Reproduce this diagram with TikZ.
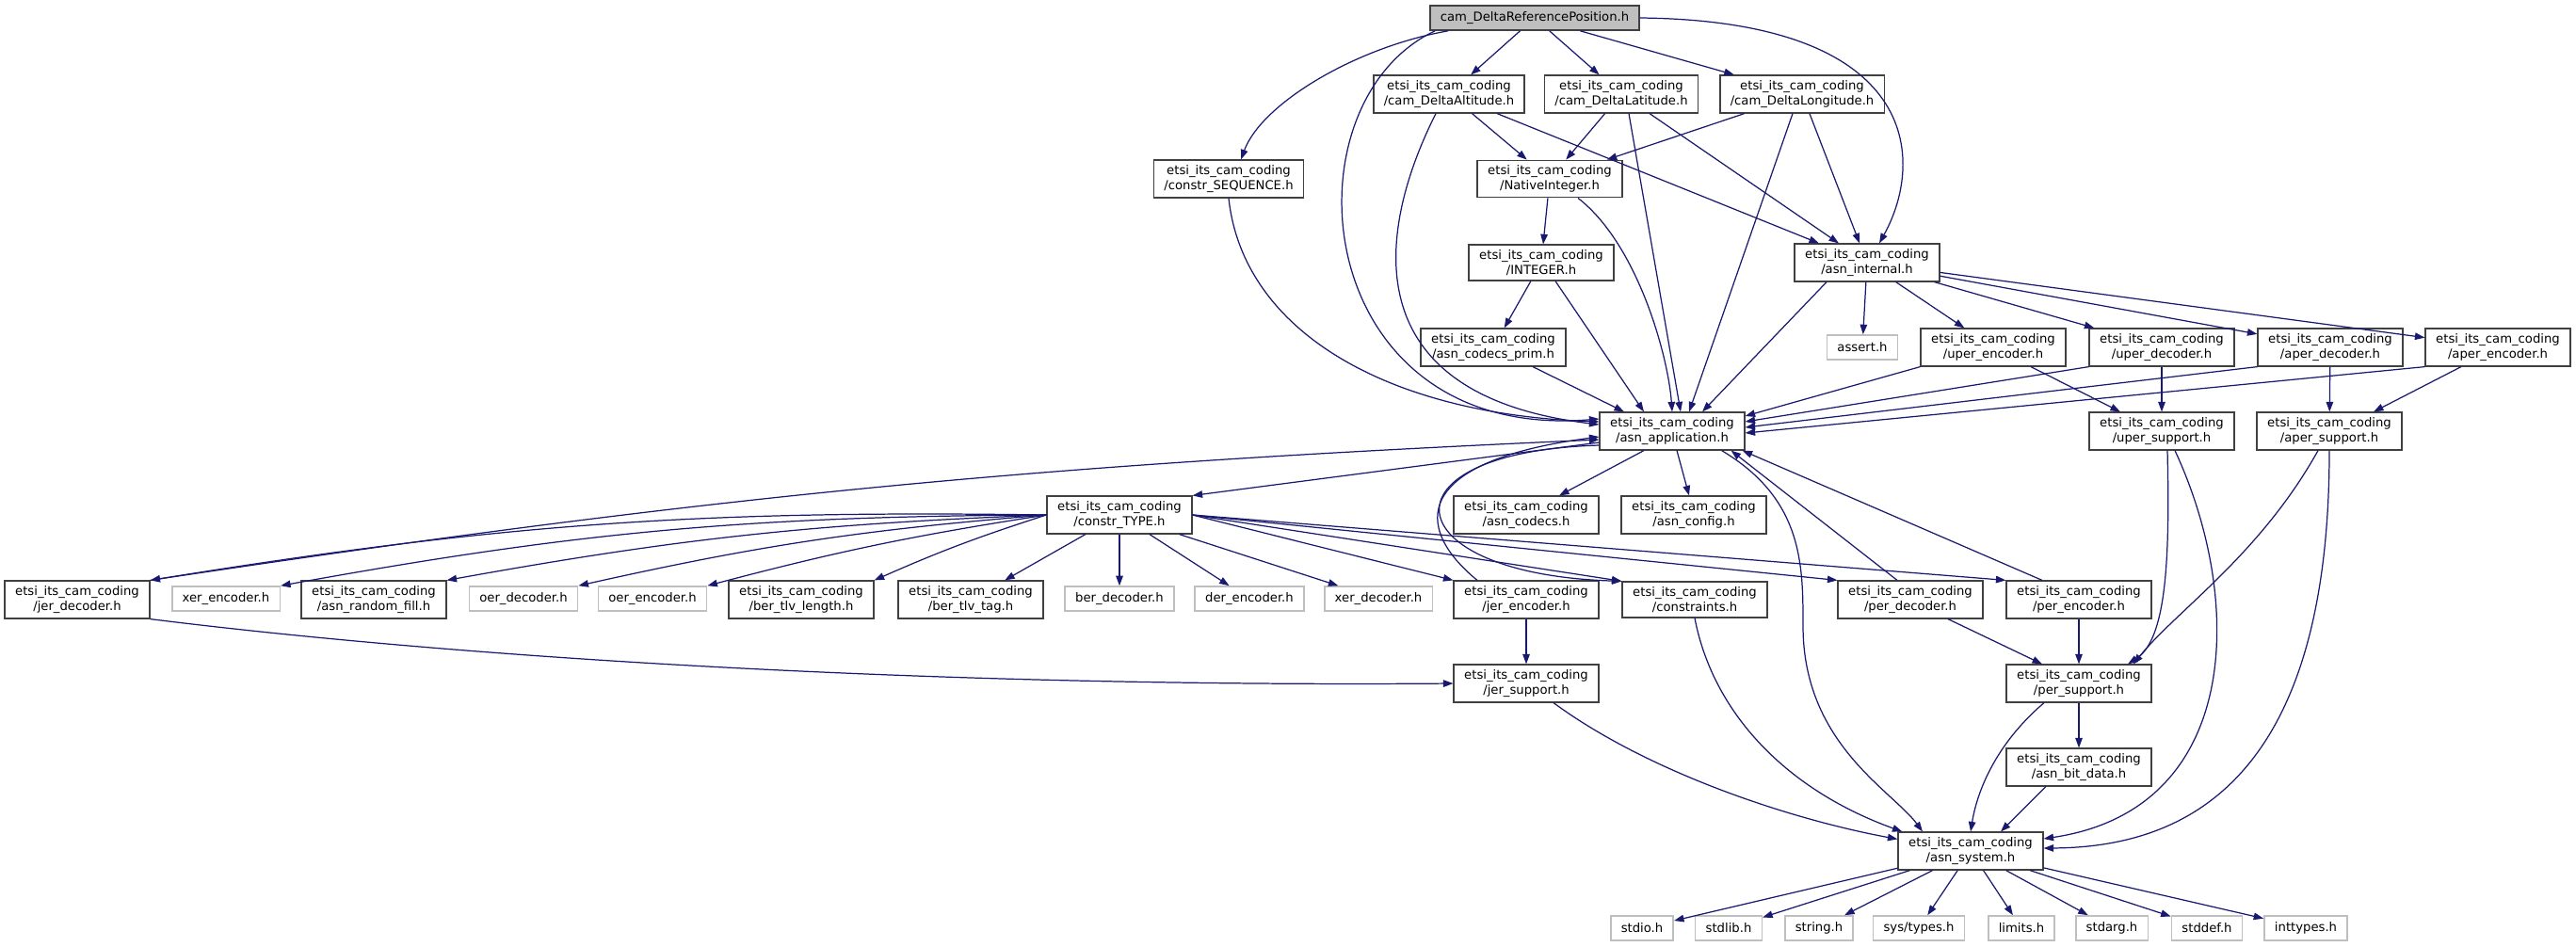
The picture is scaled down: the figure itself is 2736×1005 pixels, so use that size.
\documentclass[tikz,border=0pt]{standalone}
\usepackage{fontspec}
\newfontfamily\dejavu{DejaVu Sans}
\usetikzlibrary{arrows.meta}

\definecolor{edgeblue}{HTML}{191970}
\definecolor{sysgray}{HTML}{BFBFBF}
\definecolor{rootfill}{HTML}{BFBFBF}
\definecolor{docgray}{HTML}{404040}

\newcommand{\etsi}[1]{etsi\_its\_cam\_coding\\/#1}

\begin{document}
\begin{tikzpicture}[
        x=0.01cm, y=-0.01cm,
        every node/.style = {font=\dejavu\fontsize{3.75}{4.4}\selectfont},
        box/.style = {draw=docgray, line width=0.45pt, fill=white, align=center,
                      inner xsep=1.1mm, inner ysep=0.55mm, minimum height=0.26cm},
        sysbox/.style = {box, draw=sysgray},
        rootbox/.style = {box, fill=rootfill},
        arrow/.style = {-{Triangle[length=1.05mm,width=0.75mm]}, edgeblue, line width=0.35pt}
    ]
    \useasboundingbox (0,0) rectangle (2736,1005);

    % top of the graph
    \node[rootbox] (root) at (1630,19) {cam\_DeltaReferencePosition.h};
    \node[box] (alt) at (1539,100) {\etsi{cam\_DeltaAltitude.h}};
    \node[box] (lat) at (1722,100) {\etsi{cam\_DeltaLatitude.h}};
    \node[box] (lon) at (1914,100) {\etsi{cam\_DeltaLongitude.h}};
    \node[box] (seq) at (1305,190) {\etsi{constr\_SEQUENCE.h}};
    \node[box] (native) at (1646,190) {\etsi{NativeInteger.h}};
    \node[box] (integer) at (1637,279) {\etsi{INTEGER.h}};
    \node[box] (internal) at (1983,279) {\etsi{asn\_internal.h}};

    \node[box] (codecsprim) at (1586,369) {\etsi{asn\_codecs\_prim.h}};
    \node[sysbox] (assert) at (1978,369) {assert.h};
    \node[box] (uperenc) at (2117,369) {\etsi{uper\_encoder.h}};
    \node[box] (uperdec) at (2296,369) {\etsi{uper\_decoder.h}};
    \node[box] (aperdec) at (2475,369) {\etsi{aper\_decoder.h}};
    \node[box] (aperenc) at (2653,369) {\etsi{aper\_encoder.h}};

    \node[box] (app) at (1776,458) {\etsi{asn\_application.h}};
    \node[box] (upersup) at (2296,458) {\etsi{uper\_support.h}};
    \node[box] (apersup) at (2474,458) {\etsi{aper\_support.h}};

    \node[box] (constrtype) at (1189,547) {\etsi{constr\_TYPE.h}};
    \node[box] (codecs) at (1621,547) {\etsi{asn\_codecs.h}};
    \node[box] (config) at (1799,547) {\etsi{asn\_config.h}};

    % row below constr_TYPE.h
    \node[box] (jerdec) at (82,637) {\etsi{jer\_decoder.h}};
    \node[sysbox] (xerenc) at (240,636) {xer\_encoder.h};
    \node[box] (randfill) at (397,637) {\etsi{asn\_random\_fill.h}};
    \node[sysbox] (oerdec) at (556,636) {oer\_decoder.h};
    \node[sysbox] (oerenc) at (693,636) {oer\_encoder.h};
    \node[box] (tlvlen) at (851,637) {\etsi{ber\_tlv\_length.h}};
    \node[box] (tlvtag) at (1031,637) {\etsi{ber\_tlv\_tag.h}};
    \node[sysbox] (berdec) at (1189,636) {ber\_decoder.h};
    \node[sysbox] (derenc) at (1327,636) {der\_encoder.h};
    \node[sysbox] (xerdec) at (1464,636) {xer\_decoder.h};
    \node[box] (jerenc) at (1621,637) {\etsi{jer\_encoder.h}};
    \node[box] (constraints) at (1800,637) {\etsi{constraints.h}};
    \node[box] (perdec) at (2029,637) {\etsi{per\_decoder.h}};
    \node[box] (perenc) at (2208,637) {\etsi{per\_encoder.h}};

    \node[box] (jersup) at (1621,726) {\etsi{jer\_support.h}};
    \node[box] (persup) at (2208,726) {\etsi{per\_support.h}};
    \node[box] (bitdata) at (2208,815) {\etsi{asn\_bit\_data.h}};
    \node[box] (system) at (2093,904) {\etsi{asn\_system.h}};

    % system headers
    \node[sysbox] (stdio) at (1744,986) {stdio.h};
    \node[sysbox] (stdlib) at (1836,986) {stdlib.h};
    \node[sysbox] (string) at (1932,986) {string.h};
    \node[sysbox] (systypes) at (2038,986) {sys/types.h};
    \node[sysbox] (limits) at (2147,986) {limits.h};
    \node[sysbox] (stdarg) at (2243,986) {stdarg.h};
    \node[sysbox] (stddef) at (2344,986) {stddef.h};
    \node[sysbox] (inttypes) at (2449,986) {inttypes.h};

    % Arrows from the root
    \draw[arrow] ([xshift=2mm]root.south west) .. controls (1440,50) and (1340,110) .. ([xshift=1.3mm]seq.north);
    \draw[arrow] ([xshift=0.6mm]root.south west) .. controls (1360,110) and (1390,470) .. ([yshift=1.3mm]app.west);
    \draw[arrow] (root) -- (alt);
    \draw[arrow] (root) -- (lat);
    \draw[arrow] (root) -- (lon);
    \draw[arrow] (root.east) .. controls (2040,22) and (2045,170) .. ([xshift=1.3mm]internal.north);

    % Arrows from the delta headers
    \draw[arrow] (alt) -- (native);
    \draw[arrow] ([xshift=-1.4mm]alt.south) .. controls (1460,250) and (1440,420) .. ([yshift=0.7mm]app.west);
    \draw[arrow] (alt) -- (internal);
    \draw[arrow] (lat) -- (native);
    \draw[arrow] ([xshift=0.8mm]lat.south) -- ([xshift=0.9mm]app.north);
    \draw[arrow] (lat) -- (internal);
    \draw[arrow] (lon) -- (native);
    \draw[arrow] ([xshift=-1mm]lon.south) -- ([xshift=1.8mm]app.north);
    \draw[arrow] (lon) -- (internal);
    \draw[arrow] (seq.south) .. controls (1320,350) and (1470,440) .. ([yshift=1mm]app.west);

    % NativeInteger.h, INTEGER.h, asn_codecs_prim.h
    \draw[arrow] (native) -- (integer);
    \draw[arrow] ([xshift=3mm]native.south) .. controls (1740,260) and (1772,380) .. (app.north);
    \draw[arrow] (integer) -- (codecsprim);
    \draw[arrow] ([xshift=1.5mm]integer.south) -- ([xshift=-3mm]app.north);
    \draw[arrow] ([xshift=4.2mm]codecsprim.south) -- ([xshift=-5.1mm]app.north);

    % asn_internal.h and the per codecs
    \draw[arrow] ([xshift=-4.3mm]internal.south) -- ([xshift=3.2mm]app.north);
    \draw[arrow] (internal) -- (assert);
    \draw[arrow] (internal) -- (uperenc);
    \draw[arrow] (internal) -- (uperdec);
    \draw[arrow] (internal) -- (aperdec);
    \draw[arrow] (internal) -- (aperenc);
    \draw[arrow] (uperenc.south west) -- ([yshift=1.6mm]app.east);
    \draw[arrow] (uperdec.south west) -- ([yshift=1mm]app.east);
    \draw[arrow] (aperdec.south west) -- ([yshift=0.4mm]app.east);
    \draw[arrow] (aperenc.south west) -- ([yshift=-0.2mm]app.east);
    \draw[arrow] ([xshift=4mm]uperenc.south) -- ([xshift=-4.4mm]upersup.north);
    \draw[arrow] (uperdec) -- (upersup);
    \draw[arrow] (aperdec) -- (apersup);
    \draw[arrow] ([xshift=-3.9mm]aperenc.south) -- ([xshift=4.7mm]apersup.north);
    \draw[arrow] ([xshift=0.6mm]upersup.south) .. controls (2305,600) and (2300,680) .. ([xshift=5.2mm]persup.north);
    \draw[arrow] ([xshift=1.4mm]upersup.south) .. controls (2385,640) and (2380,860) .. ([yshift=1.3mm]system.east);
    \draw[arrow] ([xshift=-1.2mm]apersup.south) .. controls (2400,590) and (2310,650) .. ([xshift=5.8mm]persup.north);
    \draw[arrow] (apersup.south) .. controls (2474,820) and (2330,900) .. ([yshift=0.3mm]system.east);

    % asn_application.h
    \draw[arrow] ([yshift=-1.2mm]app.west) -- (constrtype.north east);
    \draw[arrow] ([xshift=-3mm]app.south) -- ([xshift=3.5mm]codecs.north);
    \draw[arrow] ([xshift=0.5mm]app.south) -- ([xshift=-0.5mm]config.north);
    \draw[arrow] ([xshift=-2.5mm]app.south east) .. controls (1915,530) and (1915,600) .. (1915,665)
        .. controls (1915,790) and (2010,840) .. ([xshift=-5.1mm]system.north);
    \draw[arrow] ([yshift=-1.5mm]app.west) .. controls (1460,480) and (1480,610) .. (constraints.north west);

    % constr_TYPE.h
    \foreach \dst/\bnd in {jerdec/5,xerenc/5,randfill/4,oerdec/4,oerenc/3,tlvlen/3}
        \draw[arrow] (constrtype.west) to[bend right=\bnd] (\dst.north east);
    \foreach \dst in {tlvtag,berdec,derenc,xerdec}
        \draw[arrow] (constrtype) -- (\dst);
    \foreach \dst in {jerenc,constraints,perdec,perenc}
        \draw[arrow] (constrtype.east) -- (\dst.north west);

    % back to asn_application.h
    \draw[arrow] (jerdec.north east) to[bend left=3] ([yshift=-0.9mm]app.west);
    \draw[arrow] ([xshift=-5.2mm]jerenc.north) .. controls (1500,560) and (1500,490) .. ([yshift=-0.6mm]app.west);
    \draw[arrow] ([xshift=-1.4mm]perdec.north) -- ([xshift=-1.5mm]app.south east);
    \draw[arrow] ([xshift=-3.9mm]perenc.north) -- ([xshift=-0.3mm]app.south east);

    % support headers
    \draw[arrow] (jerdec.south east) .. controls (500,700) and (1000,730) .. (jersup.west);
    \draw[arrow] (jerenc) -- (jersup);
    \draw[arrow] ([xshift=4mm]perdec.south) -- ([xshift=-3.9mm]persup.north);
    \draw[arrow] (perenc) -- (persup);
    \draw[arrow] (persup) -- (bitdata);

    % into asn_system.h
    \draw[arrow] ([xshift=2.9mm]jersup.south) .. controls (1750,820) and (1900,870) .. ([yshift=-0.8mm]system.north west);
    \draw[arrow] (constraints.south) .. controls (1820,760) and (1900,840) .. ([xshift=0.5mm]system.north west);
    \draw[arrow] ([xshift=-3.7mm]persup.south) .. controls (2120,790) and (2100,840) .. (system.north);
    \draw[arrow] ([xshift=-3.5mm]bitdata.south) -- ([xshift=3.2mm]system.north);

    \foreach \dst in {stdio,stdlib,string,systypes,limits,stdarg,stddef,inttypes}
        \draw[arrow] (system) -- (\dst);

\end{tikzpicture}
\end{document}
